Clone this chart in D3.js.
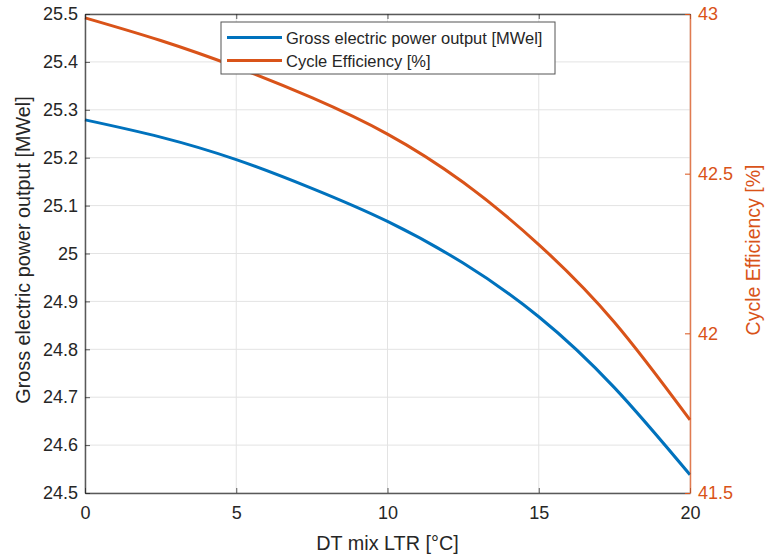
<!DOCTYPE html>
<html>
<head>
<meta charset="utf-8">
<script src="https://cdn.jsdelivr.net/npm/d3@7"></script>
<style>
  body { margin: 0; background: #fff; }
  text { font-family: "Liberation Sans", Arial, sans-serif; }
</style>
</head>
<body>
<svg id="chart" width="766" height="558"></svg>
<script>
// data
var dtMix = [0, 2.5, 5, 7.5, 10, 12.5, 15, 17.5, 20];
var grossPower = [25.279, 25.243, 25.196, 25.136, 25.067, 24.980, 24.868, 24.720, 24.538];
var cycleEff = [42.988, 42.917, 42.834, 42.738, 42.624, 42.473, 42.278, 42.035, 41.729];

var xTicks = [0, 5, 10, 15, 20];
var leftTicks = [24.5, 24.6, 24.7, 24.8, 24.9, 25, 25.1, 25.2, 25.3, 25.4, 25.5];
var rightTicks = [41.5, 42, 42.5, 43];
var seriesNames = ["Gross electric power output [MWel]", "Cycle Efficiency [%]"];

var blue = "#0072BD", orange = "#D95319", axisCol = "#262626";

var svg = d3.select("#chart");
// plot box (don't call it "top", that's window.top)
var pLeft = 85, pRight = 690, pTop = 14, pBottom = 493;

var x = d3.scaleLinear().domain([0, 20]).range([pLeft, pRight]);
var yL = d3.scaleLinear().domain([24.5, 25.5]).range([pBottom, pTop]);
var yR = d3.scaleLinear().domain([41.5, 43]).range([pBottom, pTop]);

// grid
svg.append("g").selectAll("line").data(xTicks).enter().append("line")
  .attr("x1", d => x(d)).attr("x2", d => x(d)).attr("y1", pTop).attr("y2", pBottom)
  .attr("stroke", "#e3e3e3").attr("stroke-width", 1);
svg.append("g").selectAll("line").data(leftTicks).enter().append("line")
  .attr("x1", pLeft).attr("x2", pRight).attr("y1", d => yL(d)).attr("y2", d => yL(d))
  .attr("stroke", "#e3e3e3").attr("stroke-width", 1);

// curves
var lineL = d3.line().x((d, i) => x(dtMix[i])).y(d => yL(d)).curve(d3.curveNatural);
var lineR = d3.line().x((d, i) => x(dtMix[i])).y(d => yR(d)).curve(d3.curveNatural);

svg.append("path").datum(grossPower).attr("d", lineL)
  .attr("fill", "none").attr("stroke", blue).attr("stroke-width", 3);
svg.append("path").datum(cycleEff).attr("d", lineR)
  .attr("fill", "none").attr("stroke", orange).attr("stroke-width", 3);

// axes
var xAxis = d3.axisBottom(x).tickValues(xTicks).tickFormat(d3.format("d")).tickSizeInner(-5).tickSizeOuter(0).tickPadding(13);
var gx = svg.append("g").attr("transform", "translate(0," + pBottom + ")").call(xAxis);
var xTop = d3.axisTop(x).tickValues(xTicks).tickFormat("").tickSizeInner(-5).tickSizeOuter(0);
var gxt = svg.append("g").attr("transform", "translate(0," + pTop + ")").call(xTop);

var yAxisL = d3.axisLeft(yL).tickValues(leftTicks).tickFormat(d => String(+d.toFixed(1))).tickSizeInner(-5).tickSizeOuter(0).tickPadding(7);
var gl = svg.append("g").attr("transform", "translate(" + pLeft + ",0)").call(yAxisL);

var yAxisR = d3.axisRight(yR).tickValues(rightTicks).tickFormat(d => String(d)).tickSizeInner(-5).tickSizeOuter(0).tickPadding(8);
var gr = svg.append("g").attr("transform", "translate(" + pRight + ",0)").call(yAxisR);

[gx, gxt, gl].forEach(function (g) {
  g.select(".domain").attr("stroke", axisCol).attr("stroke-width", 1.5).attr("opacity", 0.75);
  g.selectAll(".tick line").attr("stroke", axisCol).attr("opacity", 0.75);
  g.selectAll(".tick text").attr("fill", axisCol).attr("font-size", 18)
    .style("font-family", "'Liberation Sans', Arial, sans-serif");
});
gr.select(".domain").attr("stroke", orange).attr("stroke-width", 1.5).attr("opacity", 0.75);
gr.selectAll(".tick line").attr("stroke", orange);
gr.selectAll(".tick text").attr("fill", orange).attr("font-size", 18)
  .style("font-family", "'Liberation Sans', Arial, sans-serif");

// axis titles
svg.append("text").attr("x", (pLeft + pRight) / 2).attr("y", 550)
  .attr("text-anchor", "middle").attr("font-size", 19.8).attr("fill", axisCol)
  .text("DT mix LTR [°C]");
svg.append("text").attr("transform", "translate(30,250) rotate(-90)")
  .attr("text-anchor", "middle").attr("font-size", 19.8).attr("fill", axisCol)
  .text("Gross electric power output [MWel]");
svg.append("text").attr("transform", "translate(760,250) rotate(-90)")
  .attr("text-anchor", "middle").attr("font-size", 19.5).attr("fill", orange)
  .text("Cycle Efficiency [%]");

// legend
var lg = svg.append("g").attr("transform", "translate(221,22)");
lg.append("rect").attr("width", 334).attr("height", 52)
  .attr("fill", "#fff").attr("stroke", "#555").attr("stroke-width", 1);
var items = lg.selectAll("g.item").data(seriesNames).enter().append("g")
  .attr("transform", (d, i) => "translate(0," + (15.5 + i * 23) + ")");
items.append("line").attr("x1", 6).attr("x2", 61).attr("y1", 0).attr("y2", 0)
  .attr("stroke", (d, i) => i === 0 ? blue : orange).attr("stroke-width", 3);
items.append("text").attr("x", 65).attr("y", 6).attr("font-size", 16.5)
  .attr("fill", axisCol).text(d => d);
</script>
</body>
</html>
